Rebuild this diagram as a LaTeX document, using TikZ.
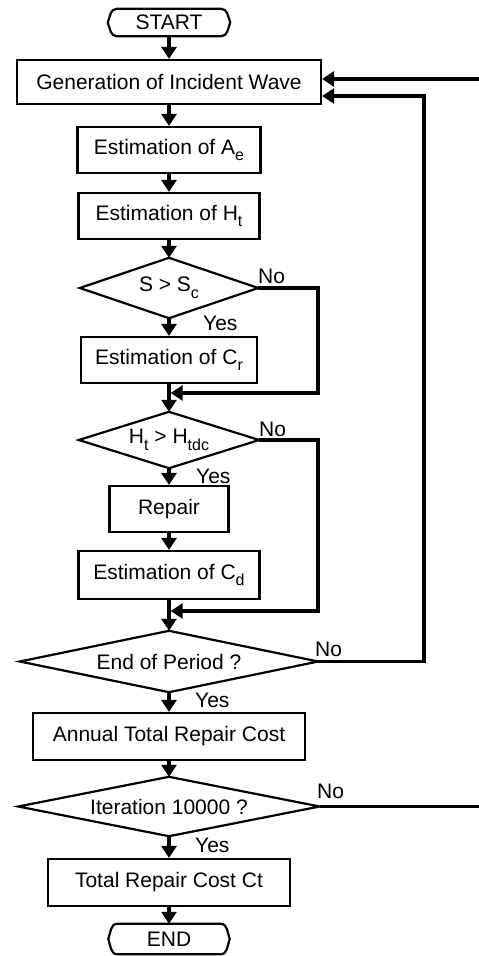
\documentclass[tikz,border=0pt]{standalone}
\usepackage{fontspec}
\setmainfont{Liberation Sans}
\usetikzlibrary{arrows.meta}
\newcommand\subs[1]{\raisebox{-0.32em}{\fontsize{16}{16}\selectfont #1}}
\begin{document}
\begin{tikzpicture}[x=1pt,y=-1pt,
  font=\fontsize{21}{25}\selectfont,
  box/.style={draw, line width=2.2pt, inner sep=0pt},
  frame/.style={inner sep=0pt},
  shapeline/.style={line width=2.2pt, line join=miter},
  conn/.style={line width=3.4pt, -{Triangle[width=15pt,length=12pt]}},
  plain/.style={line width=3.4pt},
  lab/.style={anchor=base west, inner sep=0pt}]
\useasboundingbox (0,0) rectangle (479,956);

% terminals
\node[frame, minimum width=122pt, minimum height=27pt] (start) at (169,22.5) {START};
\draw[shapeline] ([xshift=9pt]start.north west) -- ([xshift=-9pt]start.north east)
  to[out=0,in=110] (start.east) to[out=-110,in=0] ([xshift=-9pt]start.south east)
  -- ([xshift=9pt]start.south west) to[out=180,in=-70] (start.west)
  to[out=70,in=180] ([xshift=9pt]start.north west) -- cycle;

\node[frame, minimum width=121pt, minimum height=30pt] (end) at (169,939) {END};
\draw[shapeline] ([xshift=9pt]end.north west) -- ([xshift=-9pt]end.north east)
  to[out=0,in=110] (end.east) to[out=-110,in=0] ([xshift=-9pt]end.south east)
  -- ([xshift=9pt]end.south west) to[out=180,in=-70] (end.west)
  to[out=70,in=180] ([xshift=9pt]end.north west) -- cycle;

% boxes
\node[box, minimum width=304pt, minimum height=44pt] (gen) at (169,82) {Generation of Incident Wave};
\node[box, minimum width=183pt, minimum height=46pt] (ae) at (169,150) {Estimation of A\subs{e}};
\node[box, minimum width=181pt, minimum height=46pt] (ht) at (169,216) {Estimation of H\subs{t}};
\node[box, minimum width=176pt, minimum height=46pt] (cr) at (169,360) {Estimation of C\subs{r}};
\node[box, minimum width=119pt, minimum height=46pt] (rep) at (169,509) {Repair};
\node[box, minimum width=181pt, minimum height=48pt] (cd) at (169,575) {Estimation of C\subs{d}};
\node[box, minimum width=272pt, minimum height=47pt] (ann) at (169,736.5) {Annual Total Repair Cost};
\node[box, minimum width=242pt, minimum height=47pt] (tot) at (169,882.5) {Total Repair Cost Ct};

% decisions
\node[frame, minimum width=178pt, minimum height=60pt] (d1) at (169,288) {S > S\subs{c}};
\node[frame, minimum width=180pt, minimum height=56pt] (d2) at (169,440) {H\subs{t} > H\subs{tdc}};
\node[frame, minimum width=298pt, minimum height=61pt] (d3) at (169,661.5) {End of Period ?};
\node[frame, minimum width=301pt, minimum height=59pt] (d4) at (169,806.5) {Iteration 10000 ?};
\foreach \d in {d1,d2,d3,d4}
  \draw[shapeline] (\d.north) -- (\d.east) -- (\d.south) -- (\d.west) -- cycle;

% labels
\node[lab] (no1) at (258,283) {No};
\node[lab] (yes1) at (203,330) {Yes};
\node[lab] (no2) at (259,436) {No};
\node[lab] (yes2) at (196,483) {Yes};
\node[lab] (no3) at (315,656) {No};
\node[lab] (yes3) at (195,707) {Yes};
\node[lab] (no4) at (317,798) {No};
\node[lab] (yes4) at (195,852) {Yes};

% coordinates
\coordinate (r1) at (318,393);
\coordinate (m1) at (170.7,393);
\coordinate (r2) at (318,611);
\coordinate (m2) at (170.7,611);
\coordinate (r3) at (424,96);
\coordinate (e1) at (479,806.5);
\coordinate (e2) at (479,79);

% main flow
\draw[conn] (start.south) -- (gen.north);
\draw[conn] (gen.south) -- (ae.north);
\draw[conn] (ae.south) -- (ht.north);
\draw[conn] (ht.south) -- (d1.north);
\draw[conn] (d1.south) -- (cr.north);
\draw[conn] (cr.south) -- (d2.north);
\draw[conn] (d2.south) -- (rep.north);
\draw[conn] (rep.south) -- (cd.north);
\draw[conn] (cd.south) -- (d3.north);
\draw[conn] (d3.south) -- (ann.north);
\draw[conn] (ann.south) -- (d4.north);
\draw[conn] (d4.south) -- (tot.north);
\draw[conn] (tot.south) -- (end.north);

% loops
\draw[conn] (d1.east) -| (r1) -- (m1);
\draw[conn] (d2.east) -| (r2) -- (m2);
\draw[conn] (d3.east) -| (r3) -- (gen.east |- r3);
\draw[plain] (d4.east) -- (e1);
\draw[conn] (e2) -- (gen.east |- e2);
\end{tikzpicture}
\end{document}
